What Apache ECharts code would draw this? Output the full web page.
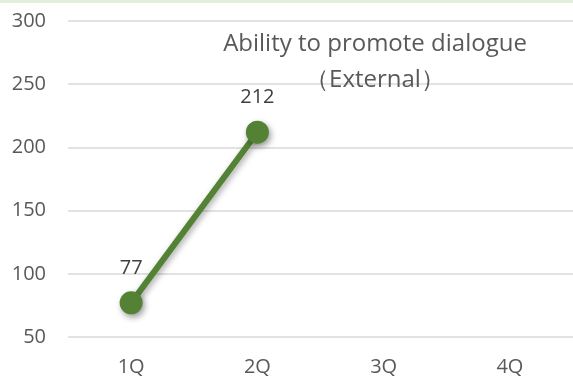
<!DOCTYPE html>
<html>
<head>
<meta charset="utf-8">
<style>
  html, body { margin: 0; padding: 0; background: #fff; }
  #chart { width: 573px; height: 379px; }
</style>
<script src="https://cdn.jsdelivr.net/npm/echarts@6/dist/echarts.min.js"></script>
</head>
<body>
<div id="chart"></div>
<script>
// Quarterly scores
const quarters = ['1Q', '2Q', '3Q', '4Q'];
const scores = [77, 212, null, null];
const yTicks = { min: 50, max: 300, interval: 50 };
const titleLines = ['Ability to promote dialogue', '（External）'];

const font = '"Open Sans", "Noto Sans", sans-serif';
const chart = echarts.init(document.getElementById('chart'), null, { renderer: 'canvas' });

chart.setOption({
  animation: false,
  backgroundColor: '#ffffff',
  graphic: [{
    type: 'rect',
    shape: { x: 0, y: 0, width: 573, height: 3 },
    style: { fill: '#e2efda' },
    silent: true
  }],
  title: {
    text: titleLines.join('\n'),
    left: 370,
    top: 21,
    textAlign: 'center',
    textStyle: {
      fontFamily: font,
      fontSize: 24,
      fontWeight: 'normal',
      color: '#595959',
      lineHeight: 36
    }
  },
  grid: { left: 68, right: -3, top: 21, bottom: 42 },
  xAxis: {
    type: 'category',
    data: quarters,
    boundaryGap: true,
    axisLine: { show: false },
    axisTick: { show: false },
    axisLabel: { fontFamily: font, fontSize: 20, color: '#595959', margin: 20 }
  },
  yAxis: {
    type: 'value',
    min: yTicks.min,
    max: yTicks.max,
    interval: yTicks.interval,
    axisLine: { show: false },
    axisTick: { show: false },
    axisLabel: { fontFamily: font, fontSize: 20, color: '#595959', margin: 22 },
    splitLine: { lineStyle: { color: '#d9d9d9', width: 1.5 } }
  },
  series: [{
    type: 'line',
    data: scores,
    symbol: 'circle',
    symbolSize: 23,
    lineStyle: {
      color: '#548235',
      width: 6,
      shadowColor: 'rgba(0,0,0,0.35)',
      shadowBlur: 6,
      shadowOffsetX: 2,
      shadowOffsetY: 2
    },
    itemStyle: {
      color: '#548235',
      shadowColor: 'rgba(0,0,0,0.4)',
      shadowBlur: 6,
      shadowOffsetX: 2,
      shadowOffsetY: 3
    },
    label: {
      show: true,
      position: 'top',
      distance: 13,
      fontFamily: font,
      fontSize: 20,
      color: '#404040'
    }
  }]
});
</script>
</body>
</html>
